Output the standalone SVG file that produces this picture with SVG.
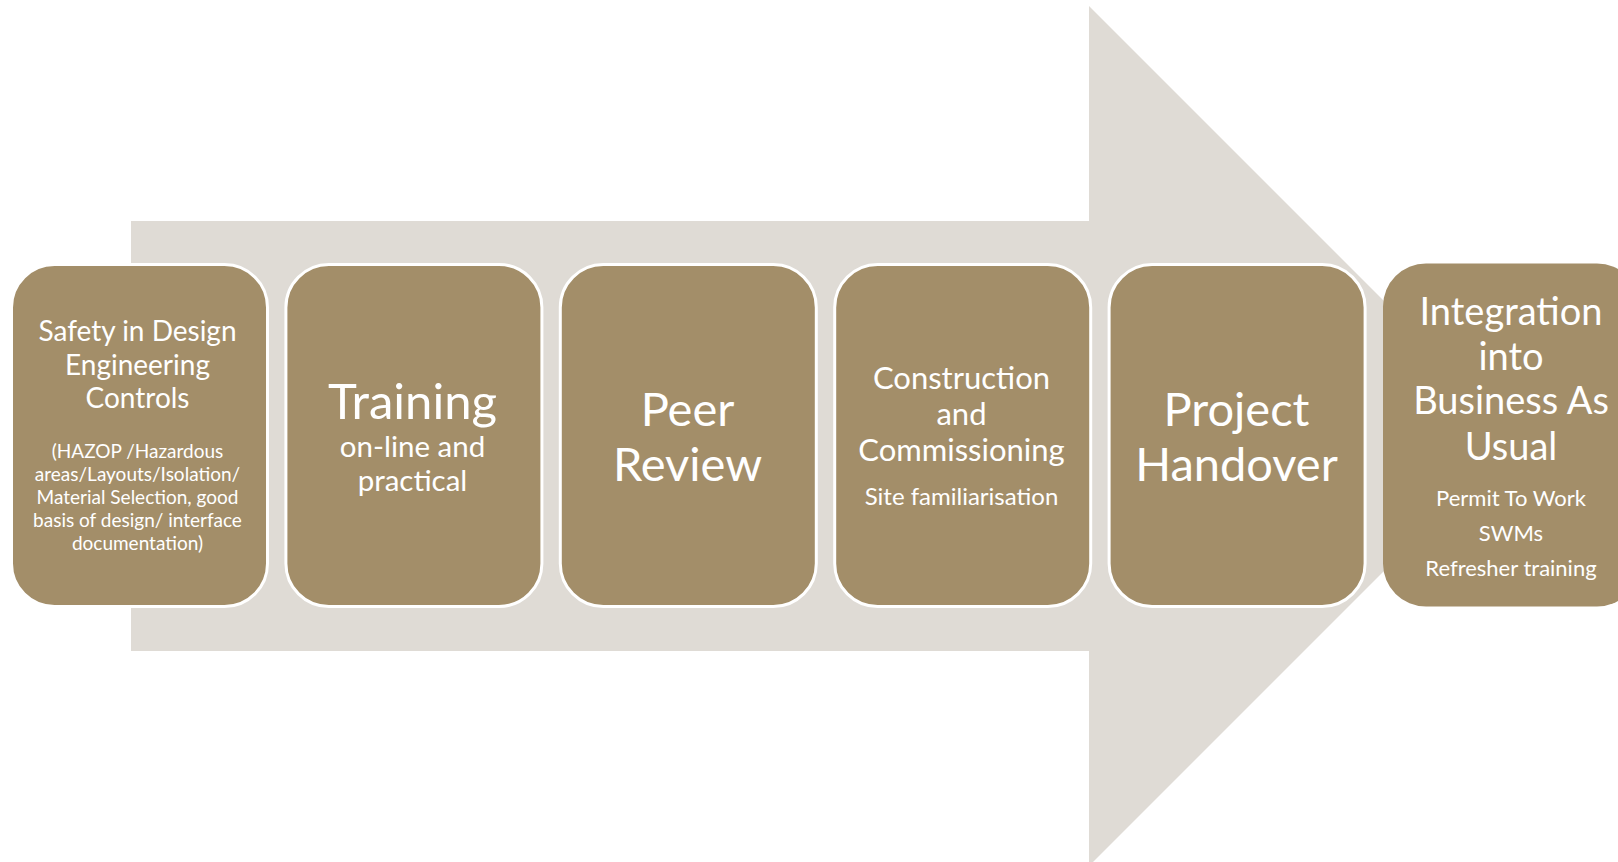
<svg xmlns="http://www.w3.org/2000/svg" width="1618" height="862" viewBox="0 0 1618 862">
<style>
.box{fill:#A38E69;stroke:#FFFFFF;stroke-width:3}
.box6{fill:#A38E69}
text{font-family:Lato,"Liberation Sans",sans-serif;fill:#FFFFFF;text-anchor:middle}
.big{font-size:47px}
.tr{font-size:49px}
.mid{font-size:29.5px}
.m4{font-size:31px}
.h1{font-size:28px}
.s1{font-size:19px}
.h6{font-size:38px}
.s6{font-size:22px}
.s4{font-size:24px}
</style>
<rect width="1618" height="862" fill="#FFFFFF"/>
<g id="connectors">
<polygon points="131,221 1089,221 1089,6 1519,436 1089,866 1089,651 131,651" fill="#DFDBD5"/>
</g>
<g id="node1">
<rect class="box" x="11.5" y="264.5" width="256" height="342" rx="43"/>
<text class="h1" x="137.5" y="341">Safety in Design</text>
<text class="h1" x="137.5" y="375">Engineering</text>
<text class="h1" x="137.5" y="408">Controls</text>
<text class="s1" x="137.5" y="458">(HAZOP /Hazardous</text>
<text class="s1" x="137.5" y="481">areas/Layouts/Isolation/</text>
<text class="s1" x="137.5" y="504">Material Selection, good</text>
<text class="s1" x="137.5" y="527">basis of design/ interface</text>
<text class="s1" x="137.5" y="550">documentation)</text>
</g>
<g id="node2">
<rect class="box" x="285.9" y="264.5" width="256" height="342" rx="43"/>
<text class="tr" x="412.5" y="419">Training</text>
<text class="mid" x="412.5" y="457">on-line and</text>
<text class="mid" x="412.5" y="491">practical</text>
</g>
<g id="node3">
<rect class="box" x="560.3" y="264.5" width="256" height="342" rx="43"/>
<text class="big" x="687.5" y="426">Peer</text>
<text class="big" x="687.5" y="481">Review</text>
</g>
<g id="node4">
<rect class="box" x="834.7" y="264.5" width="256" height="342" rx="43"/>
<text class="m4" x="961.5" y="389">Construction</text>
<text class="m4" x="961.5" y="425">and</text>
<text class="m4" x="961.5" y="461">Commissioning</text>
<text class="s4" x="961.5" y="505">Site familiarisation</text>
</g>
<g id="node5">
<rect class="box" x="1109.1" y="264.5" width="256" height="342" rx="43"/>
<text class="big" x="1236.5" y="426">Project</text>
<text class="big" x="1236.5" y="481">Handover</text>
</g>
<g id="node6">
<rect class="box6" x="1383" y="263.5" width="257" height="343" rx="43"/>
<text class="h6" x="1511" y="325">Integration</text>
<text class="h6" x="1511" y="370">into</text>
<text class="h6" x="1511" y="414">Business As</text>
<text class="h6" x="1511" y="460">Usual</text>
<text class="s6" x="1511" y="506">Permit To Work</text>
<text class="s6" x="1511" y="541">SWMs</text>
<text class="s6" x="1511" y="576">Refresher training</text>
</g>
</svg>
